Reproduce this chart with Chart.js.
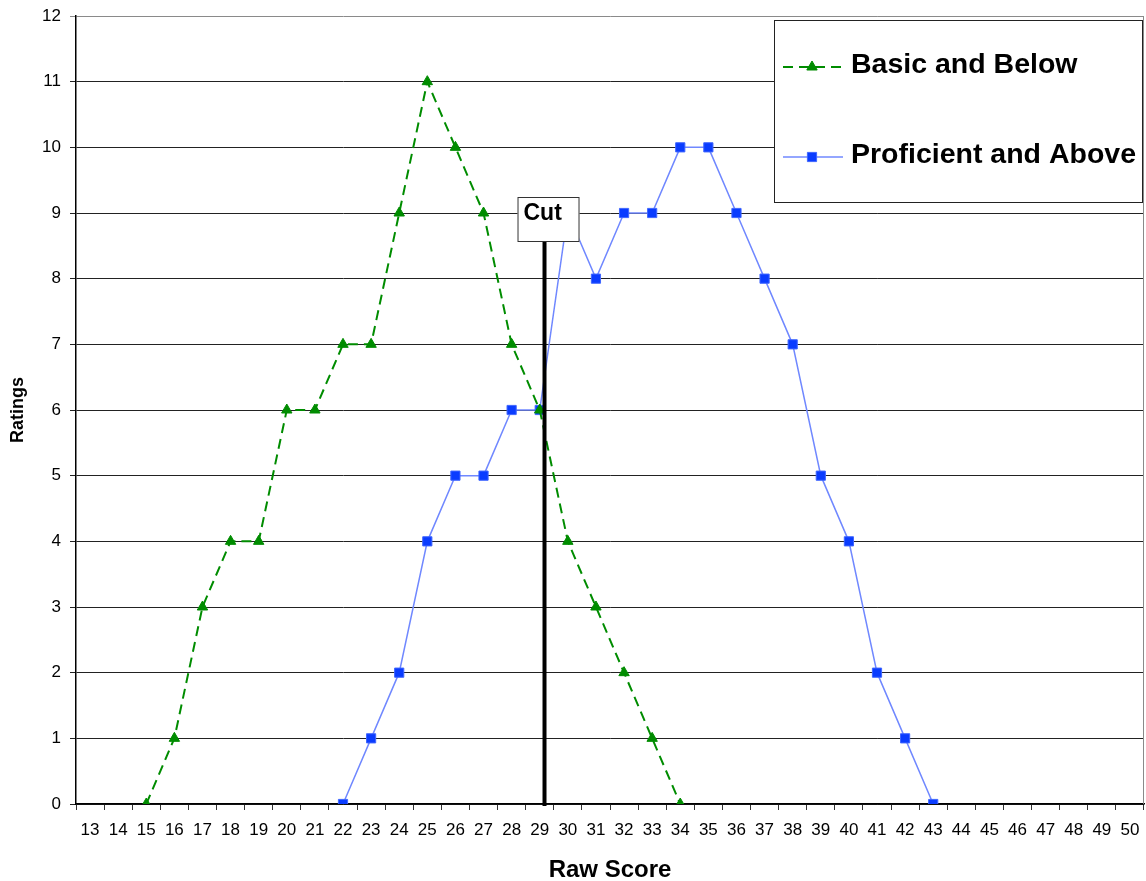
<!DOCTYPE html>
<html>
<head>
<meta charset="utf-8">
<script src="https://cdn.jsdelivr.net/npm/chart.js@4/dist/chart.umd.min.js"></script>
<style>
  html, body { margin: 0; padding: 0; background: #fff; }
  #wrap { width: 1146px; height: 881px; position: relative; }
</style>
</head>
<body>
<div id="wrap"><canvas id="chart" width="1146" height="881"></canvas></div>
<script>
// Raw score categories on the x axis
const rawScores = [13, 14, 15, 16, 17, 18, 19, 20, 21, 22, 23, 24, 25, 26, 27, 28, 29, 30, 31,
                   32, 33, 34, 35, 36, 37, 38, 39, 40, 41, 42, 43, 44, 45, 46, 47, 48, 49, 50];

// Number of ratings at each raw score
const basicAndBelow = [null, null, 0, 1, 3, 4, 4, 6, 6, 7, 7, 9, 11, 10, 9, 7, 6, 4, 3, 2, 1, 0,
                       null, null, null, null, null, null, null, null, null, null, null, null, null, null, null, null];
const proficientAndAbove = [null, null, null, null, null, null, null, null, null,
                            0, 1, 2, 4, 5, 5, 6, 6, 9, 8, 9, 9, 10, 10, 9, 8, 7, 5, 4, 2, 1, 0,
                            null, null, null, null, null, null, null];

const seriesNames = ['Basic and Below', 'Proficient and Above'];
const yTicks = [0, 1, 2, 3, 4, 5, 6, 7, 8, 9, 10, 11, 12];

// Cut score separating the two groups
const cutScore = 29.17;
const cutLabel = 'Cut';
const xTitle = 'Raw Score';
const yTitle = 'Ratings';

const FONT = "'Liberation Sans', Arial, sans-serif";
const GREEN = '#008c00';
const BLUE_LINE = '#7088ff';
const BLUE_MARK = '#0a3cff';

// Fixed axis box sizes; label overflow padding is left to layout.padding
function fixBox(scale, size) {
  if (scale.isHorizontal()) scale.height = size; else scale.width = size;
  scale.paddingTop = 0;
  scale.paddingBottom = 0;
  scale.paddingLeft = 0;
  scale.paddingRight = 0;
}

// Titles, cut line with its label, plot border and the boxed legend
const overlay = {
  id: 'overlay',
  afterDatasetsDraw(chart) {
    const { ctx, chartArea: a, scales: { x, y } } = chart;
    ctx.save();

    // right border of the plot area
    ctx.strokeStyle = '#8a8a8a';
    ctx.lineWidth = 1;
    ctx.beginPath();
    ctx.moveTo(a.right - 0.5, a.top);
    ctx.lineTo(a.right - 0.5, a.bottom);
    ctx.stroke();

    // cut line
    const cx = x.getPixelForValue(cutScore - rawScores[0]);
    const boxTop = y.getPixelForValue(9) - 16;
    const boxH = 45, boxW = 62;
    ctx.strokeStyle = '#000';
    ctx.lineWidth = 4;
    ctx.beginPath();
    ctx.moveTo(cx, boxTop + boxH);
    ctx.lineTo(cx, a.bottom + 2);
    ctx.stroke();

    // cut label box
    const bx = cx - 27;
    ctx.fillStyle = '#fff';
    ctx.fillRect(bx, boxTop, boxW, boxH);
    ctx.strokeStyle = '#333';
    ctx.lineWidth = 1;
    ctx.strokeRect(bx + 0.5, boxTop + 0.5, boxW - 1, boxH - 1);
    ctx.fillStyle = '#000';
    ctx.font = `bold 23px ${FONT}`;
    ctx.textAlign = 'left';
    ctx.textBaseline = 'middle';
    ctx.fillText(cutLabel, bx + 6, boxTop + 17);

    // legend box
    const lx = 774, ly = 20, lw = 369, lh = 183;
    ctx.fillStyle = '#fff';
    ctx.fillRect(lx, ly, lw, lh);
    ctx.strokeStyle = '#222';
    ctx.lineWidth = 1;
    ctx.strokeRect(lx + 0.5, ly + 0.5, lw - 1, lh - 1);

    const rows = [67, 157];
    chart.data.datasets.forEach((ds, i) => {
      const ry = rows[i];
      ctx.save();
      ctx.strokeStyle = ds.borderColor;
      ctx.lineWidth = ds.borderWidth;
      ctx.setLineDash(ds.borderDash || []);
      ctx.beginPath();
      ctx.moveTo(783, ry);
      ctx.lineTo(843, ry);
      ctx.stroke();
      ctx.restore();
      ctx.fillStyle = ds.pointBackgroundColor;
      ctx.strokeStyle = ds.pointBorderColor;
      ctx.lineWidth = ds.pointBorderWidth;
      ctx.beginPath();
      if (ds.pointStyle === 'triangle') {
        const r = ds.pointRadius;
        ctx.moveTo(812, ry - r);
        ctx.lineTo(812 + r * 0.866, ry + r / 2);
        ctx.lineTo(812 - r * 0.866, ry + r / 2);
        ctx.closePath();
      } else {
        const s = ds.pointRadius * Math.SQRT1_2;
        ctx.rect(812 - s, ry - s, 2 * s, 2 * s);
      }
      ctx.fill();
      ctx.stroke();

      ctx.fillStyle = '#000';
      ctx.font = `bold 28.5px ${FONT}`;
      ctx.textAlign = 'left';
      ctx.textBaseline = 'middle';
      ctx.fillText(ds.label, 851, ry - 2);
    });

    // axis titles
    ctx.fillStyle = '#000';
    ctx.font = `bold 24px ${FONT}`;
    ctx.textAlign = 'center';
    ctx.textBaseline = 'middle';
    ctx.fillText(xTitle, (a.left + a.right) / 2, 870);

    ctx.save();
    ctx.translate(18, (a.top + a.bottom) / 2);
    ctx.rotate(-Math.PI / 2);
    ctx.font = `bold 18px ${FONT}`;
    ctx.fillText(yTitle, 0, 0);
    ctx.restore();

    ctx.restore();
  }
};

new Chart(document.getElementById('chart'), {
  type: 'line',
  data: {
    labels: rawScores.map(String),
    datasets: [
      {
        label: seriesNames[0],
        data: basicAndBelow,
        borderColor: GREEN,
        borderWidth: 2,
        borderDash: [10, 6],
        pointStyle: 'triangle',
        pointRadius: 6,
        pointBackgroundColor: GREEN,
        pointBorderColor: GREEN,
        pointBorderWidth: 1,
        spanGaps: false,
        tension: 0
      },
      {
        label: seriesNames[1],
        data: proficientAndAbove,
        borderColor: BLUE_LINE,
        borderWidth: 1.5,
        pointStyle: 'rect',
        pointRadius: 6.5,
        pointBackgroundColor: BLUE_MARK,
        pointBorderColor: '#3f66ff',
        pointBorderWidth: 1,
        spanGaps: false,
        tension: 0
      }
    ]
  },
  options: {
    responsive: false,
    animation: false,
    events: [],
    layout: { autoPadding: false, padding: { top: 16, right: 2, left: 0, bottom: 0 } },
    plugins: {
      legend: { display: false },
      tooltip: { enabled: false },
      title: { display: false }
    },
    scales: {
      x: {
        type: 'category',
        offset: true,
        grid: {
          offset: true,
          drawOnChartArea: false,
          drawTicks: true,
          tickLength: 6,
          color: '#333'
        },
        border: { display: true, color: '#000', width: 1.5 },
        ticks: {
          autoSkip: false,
          maxRotation: 0,
          padding: 10,
          color: '#000',
          font: { family: FONT, size: 17 }
        },
        afterFit(scale) { fixBox(scale, 77); }
      },
      y: {
        min: 0,
        max: 12,
        afterBuildTicks(scale) { scale.ticks = yTicks.map(v => ({ value: v })); },
        grid: {
          drawTicks: true,
          tickLength: 6,
          color: (c) => (c.tick && c.tick.value === 12 ? '#8a8a8a' : '#222'),
          lineWidth: 1
        },
        border: { display: true, color: '#000', width: 1.5 },
        ticks: {
          padding: 9,
          color: '#000',
          font: { family: FONT, size: 17 }
        },
        afterFit(scale) { fixBox(scale, 76); }
      }
    }
  },
  plugins: [overlay]
});
</script>
</body>
</html>
